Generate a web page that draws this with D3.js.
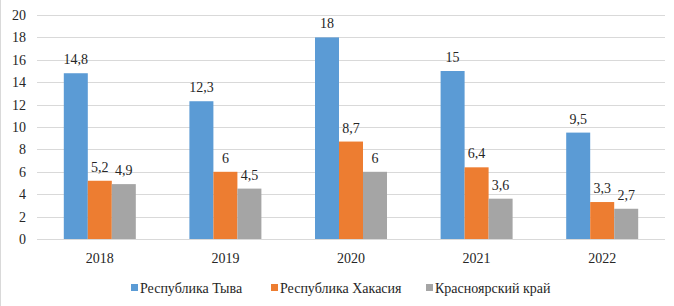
<!DOCTYPE html>
<html lang="ru">
<head>
<meta charset="UTF-8">
<title>chart</title>
<script src="https://d3js.org/d3.v7.min.js"></script>
<style>
  body { margin: 0; background: #fff; }
  svg text { font-family: 'Times New Roman', Times, 'Liberation Serif', 'Nimbus Roman', 'Nimbus Roman No9 L', Tinos, FreeSerif, 'Noto Serif', 'DejaVu Serif', serif; }
</style>
</head>
<body>
<svg></svg>
<script>
const years = ['2018', '2019', '2020', '2021', '2022'];
const seriesNames = ['Республика Тыва', 'Республика Хакасия', 'Красноярский край'];
const tyva = [14.8, 12.3, 18, 15, 9.5];
const khakasia = [5.2, 6, 8.7, 6.4, 3.3];
const krasnoyarsk = [4.9, 4.5, 6, 3.6, 2.7];
const yTicks = [0, 2, 4, 6, 8, 10, 12, 14, 16, 18, 20];

const colors = ['#5B9BD5', '#ED7D31', '#A5A5A5'];
const width = 674, height = 306;
const margin = {left: 37, right: 9, top: 15, bottom: 67};

const svg = d3.select('svg').attr('width', width).attr('height', height)
  .attr('fill', '#262626');

// рамка слева
svg.append('line')
  .attr('x1', 0.5).attr('x2', 0.5).attr('y1', 0).attr('y2', height)
  .attr('stroke', '#d9d9d9');

const x = d3.scaleBand().domain(years)
  .range([margin.left, width - margin.right]).padding(0);
const y = d3.scaleLinear().domain([0, 20])
  .range([height - margin.bottom, margin.top]);
const barW = 24;
const inner = d3.scaleBand().domain(d3.range(3))
  .range([-barW * 1.5, barW * 1.5]);

// сетка
svg.append('g').selectAll('line').data(yTicks).join('line')
  .attr('x1', margin.left).attr('x2', width - margin.right)
  .attr('y1', d => Math.round(y(d)) + 0.5).attr('y2', d => Math.round(y(d)) + 0.5)
  .attr('stroke', '#d9d9d9');

// ось Y
svg.append('g').selectAll('text').data(yTicks).join('text')
  .attr('x', 26).attr('y', d => y(d)).attr('dy', '0.35em')
  .attr('text-anchor', 'end').attr('font-size', 14)
  .text(d => d);

// ось X
svg.append('g').selectAll('text').data(years).join('text')
  .attr('x', d => x(d) + x.bandwidth() / 2).attr('y', 263)
  .attr('text-anchor', 'middle').attr('font-size', 14)
  .text(d => d);

const series = [tyva, khakasia, krasnoyarsk];
series.forEach((vals, i) => {
  const g = svg.append('g');
  g.selectAll('rect').data(vals).join('rect')
    .attr('x', (d, j) => x(years[j]) + x.bandwidth() / 2 + inner(i))
    .attr('width', barW)
    .attr('y', d => y(d))
    .attr('height', d => y(0) - y(d))
    .attr('fill', colors[i]);
  g.selectAll('text').data(vals).join('text')
    .attr('x', (d, j) => x(years[j]) + x.bandwidth() / 2 + inner(i) + barW / 2)
    .attr('y', d => y(d) - 9)
    .attr('text-anchor', 'middle').attr('font-size', 14)
    .text(d => String(d).replace('.', ','));
});

// легенда
const legendX = [131, 271, 426];
const lg = svg.append('g').selectAll('g').data(seriesNames).join('g')
  .attr('transform', (d, i) => `translate(${legendX[i]}, 288)`);
lg.append('rect').attr('x', 0).attr('y', -4).attr('width', 7).attr('height', 7)
  .attr('fill', (d, i) => colors[i]);
lg.append('text').attr('x', 9).attr('y', 0).attr('dy', '0.35em')
  .attr('font-size', 14).text(d => d);
</script>
</body>
</html>
